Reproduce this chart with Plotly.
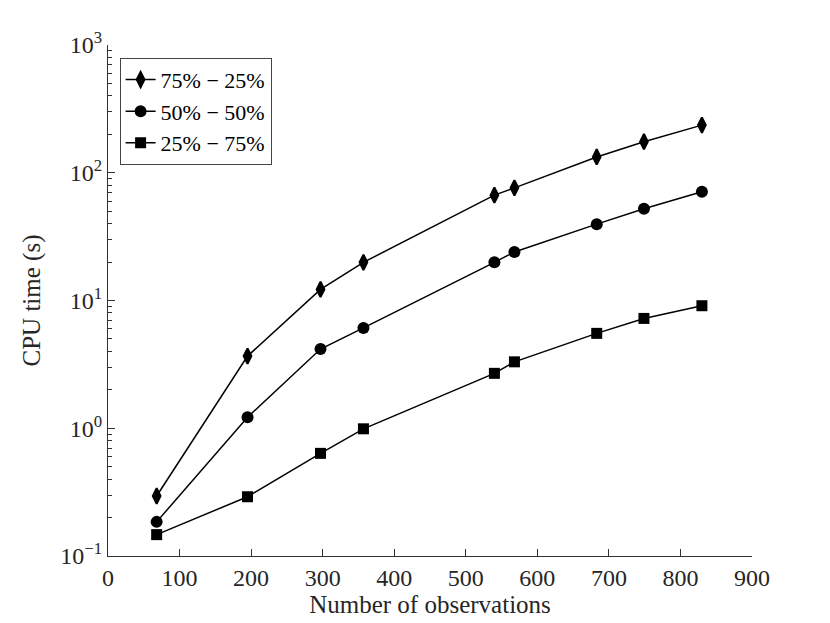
import plotly.graph_objects as go

# number of observations
n_obs = [68, 195, 297, 357, 540, 568, 683, 749, 830]

# CPU time (s) for each split
cpu_75_25 = [0.295, 3.67, 12.2, 19.9, 66.8, 76.2, 133, 175, 236]
cpu_50_50 = [0.185, 1.22, 4.17, 6.1, 19.9, 24.0, 39.6, 52.2, 71]
cpu_25_75 = [0.147, 0.291, 0.636, 0.99, 2.69, 3.31, 5.53, 7.24, 9.1]

series_names = ["75% − 25%", "50% − 50%", "25% − 75%"]

x_ticks = [0, 100, 200, 300, 400, 500, 600, 700, 800, 900]
y_ticks = [0.1, 1, 10, 100, 1000]
y_ticktext = ["10<sup>−1</sup>", "10<sup>0</sup>", "10<sup>1</sup>", "10<sup>2</sup>", "10<sup>3</sup>"]
y_minor = [m * d for d in [0.1, 1, 10, 100] for m in range(2, 10)]

font_name = "Liberation Serif, serif"

fig = go.Figure()
fig.add_trace(go.Scatter(x=n_obs, y=cpu_75_25, name=series_names[0], mode="lines+markers",
                         line=dict(color="black", width=1.5),
                         marker=dict(symbol="diamond-tall", size=11, color="black",
                                     line=dict(color="black", width=2))))
fig.add_trace(go.Scatter(x=n_obs, y=cpu_50_50, name=series_names[1], mode="lines+markers",
                         line=dict(color="black", width=1.5),
                         marker=dict(symbol="circle", size=12, color="black")))
fig.add_trace(go.Scatter(x=n_obs, y=cpu_25_75, name=series_names[2], mode="lines+markers",
                         line=dict(color="black", width=1.5),
                         marker=dict(symbol="square", size=11, color="black")))

# the page puts the figure 8px in from the top-left corner
fig.update_layout(
    width=830, height=623,
    margin=dict(l=100, r=86, t=37, b=75),
    paper_bgcolor="white", plot_bgcolor="white",
    font=dict(family=font_name, size=24, color="#262626"),
    showlegend=True,
    legend=dict(x=0.018, y=0.975, xanchor="left", yanchor="top",
                bgcolor="white", bordercolor="#444", borderwidth=1,
                font=dict(size=22, color="black"), tracegroupgap=0),
)

fig.update_xaxes(
    range=[0, 900], tickvals=x_ticks, showgrid=False, zeroline=False,
    showline=True, linecolor="#333", linewidth=1,
    ticks="inside", ticklen=7, tickcolor="#333",
    tickfont=dict(size=24),
    title=dict(text="Number of observations", font=dict(size=25), standoff=2),
)
fig.update_yaxes(
    type="log", range=[-1, 3], tickvals=y_ticks, ticktext=y_ticktext,
    showgrid=False, zeroline=False,
    showline=True, linecolor="#333", linewidth=1,
    ticks="inside", ticklen=7, tickcolor="#333",
    tickfont=dict(size=24),
    minor=dict(tickvals=y_minor, ticks="inside", ticklen=4, tickcolor="#333", showgrid=False),
    title=dict(text="CPU time (s)", font=dict(size=25), standoff=12),
)

fig.write_html("out.html")
